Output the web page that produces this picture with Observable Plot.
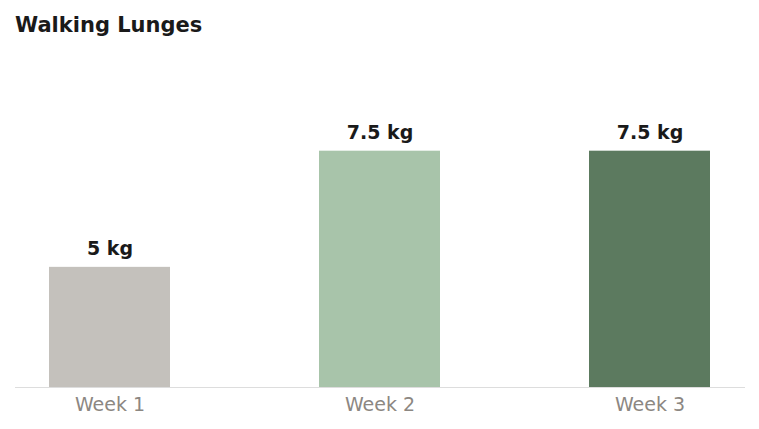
<!DOCTYPE html>
<html>
<head>
<meta charset="utf-8">
<script src="https://cdn.jsdelivr.net/npm/d3@7"></script>
<script src="https://cdn.jsdelivr.net/npm/@observablehq/plot@0.6"></script>
<style>
  body { margin: 0; background: #fff; font-family: "DejaVu Sans", sans-serif; }
  #wrap { position: relative; width: 759px; height: 429px; }
  #title { position: absolute; left: 15px; top: 13px; font-size: 21px; font-weight: bold; color: #1a1a1a; }
  #chart { position: absolute; left: 0; top: 0; }
</style>
</head>
<body>
<div id="wrap">
  <div id="chart"></div>
  <div id="title">Walking Lunges</div>
</div>
<script>
const weeks = ['Week 1', 'Week 2', 'Week 3']
const weights = [5, 7.5, 7.5]
const colors = ['#c4c1bc', '#a8c4aa', '#5c7a5f']

const data = weeks.map((w, i) => ({ week: w, kg: weights[i] }))

const chart = Plot.plot({
  width: 759,
  height: 429,
  marginTop: 81,
  marginBottom: 42,
  marginLeft: 15,
  marginRight: 14,
  style: { fontFamily: 'DejaVu Sans, sans-serif', background: 'transparent' },
  x: { domain: weeks, paddingInner: 0.55, paddingOuter: 0.122, label: null, tickSize: 0 },
  y: { domain: [2.414, 9], axis: null },
  color: { domain: weeks, range: colors },
  marks: [
    Plot.barY(data, { x: 'week', y1: 2.414, y2: 'kg', fill: 'week' }),
    Plot.ruleY([2.414], { stroke: '#dddddd', strokeWidth: 1 }),
    Plot.text(data, {
      x: 'week', y: 'kg', text: d => d.kg + ' kg', dy: -18,
      fontSize: 19, fontWeight: 'bold', fill: '#1a1a1a'
    }),
    Plot.axisX({ tickSize: 0, tickPadding: 10, fontSize: 19, color: '#8c8782', label: null })
  ]
})
d3.select('#chart').append(() => chart)
</script>
</body>
</html>
